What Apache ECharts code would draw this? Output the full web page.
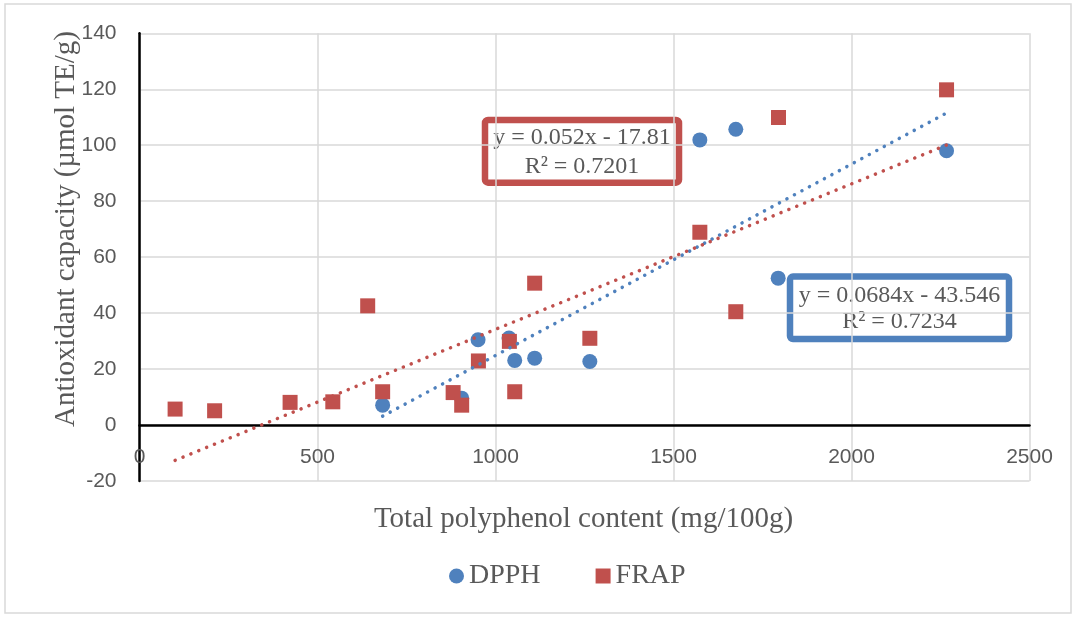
<!DOCTYPE html>
<html>
<head>
<meta charset="utf-8">
<script src="https://cdn.jsdelivr.net/npm/echarts@6/dist/echarts.min.js"></script>
<style>
html,body{margin:0;padding:0;background:#fff;}
#chart{width:1073px;height:617px;}
</style>
</head>
<body>
<div id="chart"></div>
<script>
// ---- data ----
const seriesNames = ['DPPH', 'FRAP'];
const dpphX = [683, 905, 951, 1038, 1054, 1110, 1265, 1574, 1675, 1794, 2267];
const dpphY = [7.1, 9.6, 30.5, 31.1, 23.1, 23.9, 22.7, 101.9, 105.7, 52.5, 98.0];
const frapX = [100, 211, 423, 543, 641, 683, 881, 905, 952, 1039, 1054, 1110, 1265, 1574, 1675, 1795, 2267];
const frapY = [5.7, 5.1, 8.1, 8.3, 42.6, 11.9, 11.6, 7.1, 22.9, 29.9, 11.9, 50.7, 31.0, 68.9, 40.5, 109.9, 119.8];
// trendline equations shown in the chart
const dpphTrend = {slope: 0.0684, intercept: -43.546, r2: '0.7234'};
const frapTrend = {slope: 0.052, intercept: -17.81, r2: '0.7201'};
const xTicks = {min: 0, max: 2500, interval: 500};
const yTicks = {min: -20, max: 140, interval: 20};
const xTitle = 'Total polyphenol content (mg/100g)';
const yTitle = 'Antioxidant capacity (µmol TE/g)';

const BLUE = '#4F81BD', RED = '#C0504D', TXT = '#595959', GRID = '#D9D9D9';
const zip = (xs, ys) => xs.map((x, i) => [x, ys[i]]);
const trendLine = (xs, t) => {
  const x0 = Math.min(...xs), x1 = Math.max(...xs);
  return [[x0, t.slope * x0 + t.intercept], [x1, t.slope * x1 + t.intercept]];
};
const eqText = (t) => 'y = ' + t.slope + 'x - ' + Math.abs(t.intercept) + '\nR² = ' + t.r2;

const chart = echarts.init(document.getElementById('chart'), null, {renderer: 'canvas'});
const serif = 'Liberation Serif, Times New Roman, serif';
const sans = 'Liberation Sans, Arial, sans-serif';

function eqBox(cx, top, w, h, color, t, lh) {
  return {
    type: 'group', z: 100,
    children: [
      {type: 'rect', shape: {x: cx - w / 2, y: top, width: w, height: h, r: 3},
       style: {fill: '#fff', stroke: color, lineWidth: 6.5}},
      {type: 'text', x: cx, y: top + h / 2 + 1,
       style: {text: eqText(t), font: '24px ' + serif, fill: TXT, align: 'center', verticalAlign: 'middle', lineHeight: lh}}
    ]
  };
}

chart.setOption({
  animation: false,
  backgroundColor: '#fff',
  grid: {left: 139.5, right: 43.5, top: 33.3, bottom: 136, containLabel: false},
  xAxis: {
    type: 'value', min: xTicks.min, max: xTicks.max, interval: xTicks.interval,
    axisLine: {show: true, onZero: true, lineStyle: {color: '#000', width: 2.5}},
    axisTick: {show: false},
    axisLabel: {color: TXT, fontFamily: sans, fontSize: 21, margin: -34, formatter: (v) => String(v)},
    splitLine: {show: true, lineStyle: {color: GRID, width: 1.5}}
  },
  yAxis: {
    type: 'value', min: yTicks.min, max: yTicks.max, interval: yTicks.interval,
    axisLine: {show: true, onZero: true, lineStyle: {color: '#000', width: 2.5}},
    axisTick: {show: false},
    axisLabel: {color: TXT, fontFamily: sans, fontSize: 21, margin: 23, formatter: (v) => String(v)},
    splitLine: {show: true, lineStyle: {color: GRID, width: 1.5}}
  },
  legend: {
    data: [{name: seriesNames[0], icon: 'circle'}, {name: seriesNames[1], icon: 'rect'}],
    left: 444, top: 557, itemWidth: 15, itemHeight: 15, itemGap: 55,
    textStyle: {fontFamily: serif, fontSize: 28, color: TXT}
  },
  series: [
    {name: seriesNames[0], type: 'scatter', symbol: 'circle', symbolSize: 15,
     itemStyle: {color: BLUE, opacity: 1}, data: zip(dpphX, dpphY), z: 3},
    {name: seriesNames[1], type: 'scatter', symbol: 'rect', symbolSize: 15,
     itemStyle: {color: RED, opacity: 1}, data: zip(frapX, frapY), z: 4},
    {name: 'DPPH trend', type: 'line', showSymbol: false, symbol: 'none', silent: true, z: 5,
     lineStyle: {color: BLUE, width: 3.5, type: [0.1, 8.4], cap: 'round'},
     data: trendLine(dpphX, dpphTrend)},
    {name: 'FRAP trend', type: 'line', showSymbol: false, symbol: 'none', silent: true, z: 5,
     lineStyle: {color: RED, width: 3.5, type: [0.1, 8.4], cap: 'round'},
     data: trendLine(frapX, frapTrend)}
  ],
  graphic: [
    {type: 'rect', z: -10, shape: {x: 5, y: 4, width: 1066, height: 609},
     style: {fill: 'none', stroke: GRID, lineWidth: 1.5}},
    {type: 'text', z: 100, x: 583.5, y: 519,
     style: {text: xTitle, font: '29px ' + serif, fill: TXT, align: 'center', verticalAlign: 'middle'}},
    {type: 'text', z: 100, x: 66.7, y: 229, rotation: Math.PI / 2,
     style: {text: yTitle, font: '29px ' + serif, fill: TXT, align: 'center', verticalAlign: 'middle'}},
    eqBox(582, 120, 194, 62.7, RED, frapTrend, 28.5),
    eqBox(899.5, 276.6, 219, 62.4, BLUE, dpphTrend, 26.6)
  ]
});
</script>
</body>
</html>
